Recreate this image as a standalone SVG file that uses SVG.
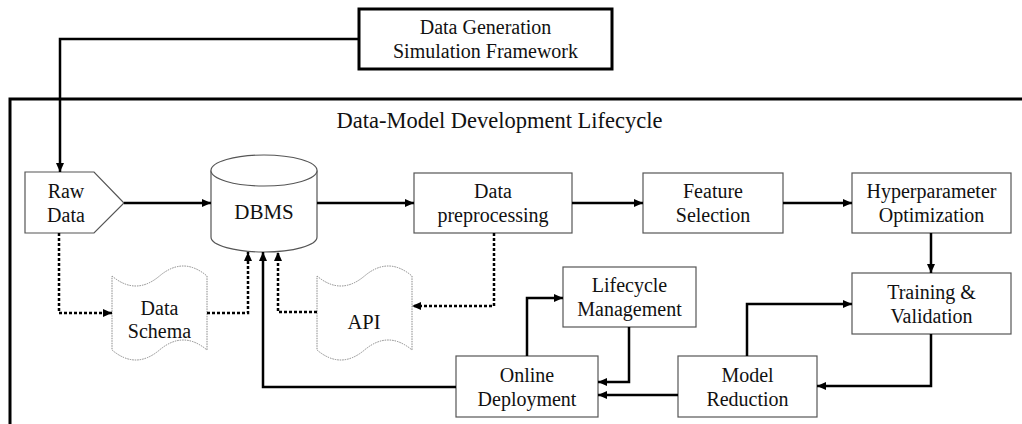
<svg xmlns="http://www.w3.org/2000/svg" width="1022" height="424" viewBox="0 0 1022 424">
<defs>
<marker id="ah" markerUnits="userSpaceOnUse" markerWidth="10" markerHeight="8" refX="9" refY="4" orient="auto">
<path d="M0,0 L9,4 L0,8 z" fill="#000"/>
</marker>
</defs>
<rect width="1022" height="424" fill="#fff"/>
<path d="M10,430 V99 H1030" fill="none" stroke="#000" stroke-width="3"/>
<g font-family="Liberation Serif" font-size="20" fill="#111" text-anchor="middle">
<text x="499.5" y="128" font-size="22.5">Data-Model Development Lifecycle</text>
</g>
<g id="gen">
<rect x="359" y="9" width="253" height="60" fill="#fff" stroke="#000" stroke-width="3"/>
<g font-family="Liberation Serif" font-size="20" fill="#111" text-anchor="middle">
<text x="485.5" y="34">Data Generation</text>
<text x="485.5" y="58">Simulation Framework</text>
</g>
</g>
<g id="nodes" fill="#fff" stroke="#555" stroke-width="1.2">
<path id="rawdata-shape" d="M25,172 H94 L124,203 L94,233 H25 Z"/>
<path id="dbms-body" d="M211,170.5 V237 A53,15 0 0 0 317,237 V170.5"/>
<ellipse id="dbms-top" cx="264" cy="170.5" rx="53" ry="15.5"/>
<rect id="prep" x="414" y="173" width="158" height="60"/>
<rect id="feat" x="643" y="173" width="140" height="60"/>
<rect id="hyper" x="852" y="173" width="159" height="60"/>
<rect id="train" x="852" y="273" width="159" height="61"/>
<rect id="lifecycle" x="563" y="267" width="133" height="60"/>
<rect id="reduction" x="678" y="356" width="139" height="61"/>
<rect id="deploy" x="456" y="356" width="142" height="61"/>
</g>
<g id="docs" fill="#fff" stroke="#888" stroke-width="1" stroke-dasharray="1.5 1">
<path id="schema" d="M112,276 Q135.75,296 159.5,276 T207,276 V350 Q183.25,330 159.5,350 T112,350 Z"/>
<path id="api" d="M317,276 Q340.75,296 364.5,276 T412,276 V350 Q388.25,330 364.5,350 T317,350 Z"/>
</g>
<g id="labels" font-family="Liberation Serif" font-size="20" fill="#111" text-anchor="middle">
<text x="66" y="198">Raw</text>
<text x="66" y="222">Data</text>
<text x="264" y="219" font-size="21">DBMS</text>
<text x="159.5" y="315">Data</text>
<text x="159.5" y="338">Schema</text>
<text x="364" y="329" font-size="20.5">API</text>
<text x="493" y="198">Data</text>
<text x="493" y="222">preprocessing</text>
<text x="713" y="198">Feature</text>
<text x="713" y="222">Selection</text>
<text x="931.5" y="198">Hyperparameter</text>
<text x="931.5" y="222">Optimization</text>
<text x="931.5" y="298.5">Training &amp;</text>
<text x="931.5" y="322.5">Validation</text>
<text x="629.5" y="292">Lifecycle</text>
<text x="629.5" y="316">Management</text>
<text x="747.5" y="381.5">Model</text>
<text x="747.5" y="405.5">Reduction</text>
<text x="527" y="381.5">Online</text>
<text x="527" y="405.5">Deployment</text>
</g>
<g id="connectors" fill="none" stroke="#000" stroke-width="2.5" marker-end="url(#ah)">
<path d="M359,39 H60 V172"/>
<path d="M124,203 H211"/>
<path d="M317,203 H414"/>
<path d="M572,203 H643"/>
<path d="M783,203 H852"/>
<path d="M931,233 V273"/>
<path d="M931,334 V386 H817"/>
<path d="M678,395 H598"/>
<path d="M747,356 V304 H852"/>
<path d="M527,356 V298 H563"/>
<path d="M629,327 V382 H598"/>
<path d="M456,387 H263 V252"/>
<g stroke-dasharray="3 2">
<path d="M59,233 V313 H112"/>
<path d="M207,313 H248 V252"/>
<path d="M494,233 V306 H412"/>
<path d="M317,312 H278 V252"/>
</g>
</g>
</svg>
